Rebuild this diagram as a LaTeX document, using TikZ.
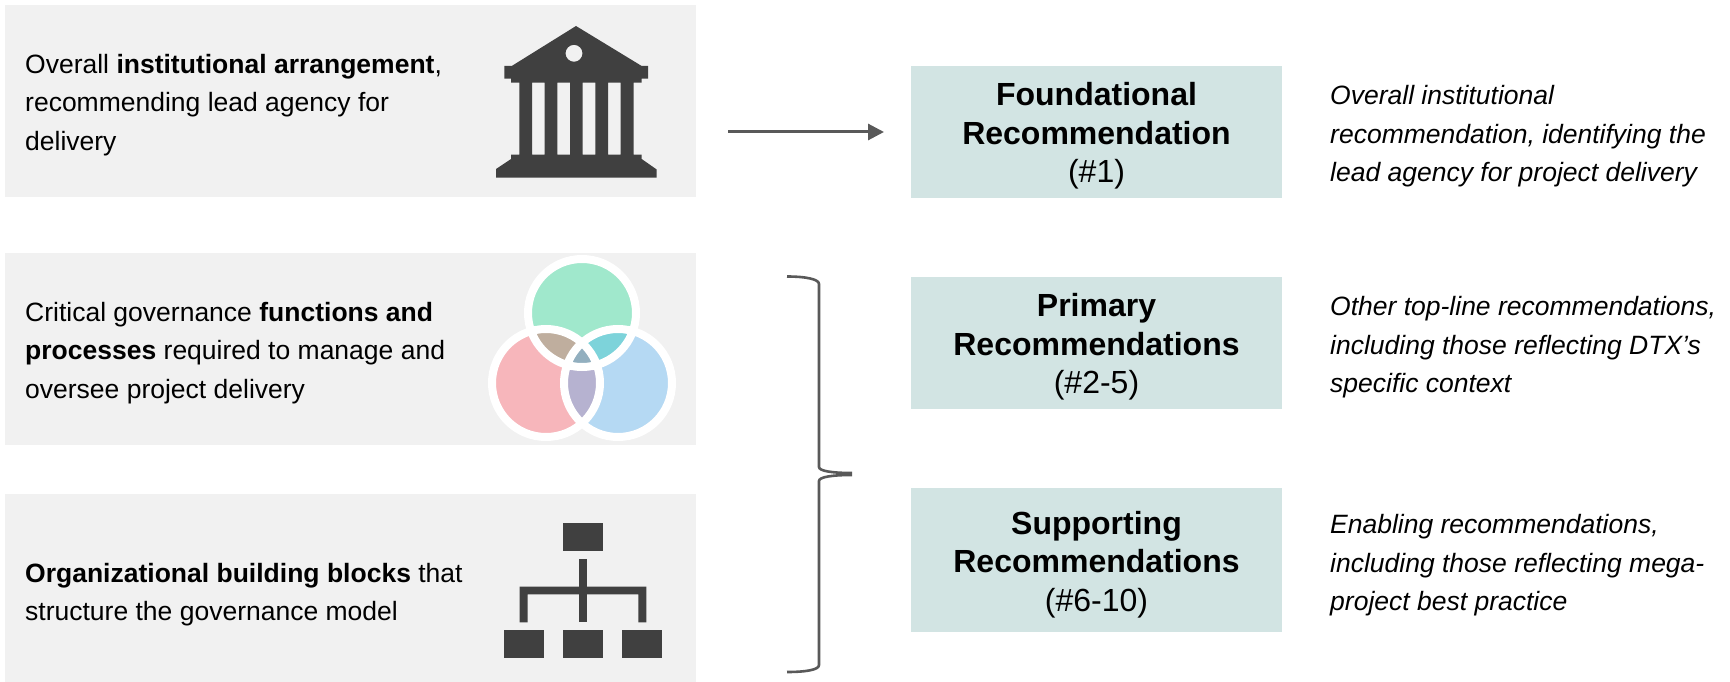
\documentclass[tikz,border=0pt]{standalone}
\usepackage{fontspec}
\setmainfont{Liberation Sans}
\definecolor{panelgray}{HTML}{F1F1F1}
\definecolor{boxteal}{HTML}{D2E4E3}
\definecolor{icondark}{HTML}{404040}
\definecolor{arrowgray}{HTML}{595959}
\definecolor{venntop}{HTML}{A0E8CC}
\definecolor{vennleft}{HTML}{F7B6BB}
\definecolor{vennright}{HTML}{B5D9F3}
\definecolor{venntl}{HTML}{BFAE9E}
\definecolor{venntr}{HTML}{7DD3DA}
\definecolor{vennlr}{HTML}{B6B2D0}
\definecolor{venncore}{HTML}{92AFBF}
\usetikzlibrary{arrows.meta}
\tikzset{
	panel/.style={fill=panelgray,draw=none,minimum width=691pt,inner sep=0pt},
	recbox/.style={fill=boxteal,draw=none,minimum width=371pt,inner sep=0pt},
	rectext/.style={align=center,inner sep=0pt,font=\fontsize{32}{38.5}\selectfont},
	paneltext/.style={anchor=west,align=left,inner sep=0pt,font=\fontsize{26.5}{38.5}\selectfont},
	notetext/.style={anchor=west,align=left,inner sep=0pt,font=\fontsize{26.5}{38.5}\selectfont\itshape},
	vennring/.style={draw=white,line width=8pt}
}
\begin{document}
\begin{tikzpicture}[x=1pt,y=-1pt]
		\useasboundingbox (0,0) rectangle (1730,682);
		% left panels
		\node[panel,minimum height=192pt] (panelA) at (350.5,101) {};
		\node[panel,minimum height=192pt] (panelB) at (350.5,349) {};
		\node[panel,minimum height=188pt] (panelC) at (350.5,588) {};
		\node[paneltext] (textA) at (25,105) {Overall \textbf{institutional arrangement},\\recommending lead agency for\\delivery};
		\node[paneltext] (textB) at (25,353) {Critical governance \textbf{functions and}\\\textbf{processes} required to manage and\\oversee project delivery};
		\node[paneltext] (textC) at (25,594.5) {\textbf{Organizational building blocks} that\\structure the governance model};
		% temple icon
		\fill[icondark,even odd rule] (576,26) -- (641.7,66) -- (648,66) -- (648,78.7) -- (641.7,78.7) -- (641.7,82.7)
		-- (633.7,82.7) -- (633.7,154.7) -- (641.7,154.7) -- (641.7,159) -- (656.7,169.5) -- (656.7,177.7) -- (496,177.7) -- (496,169)
		-- (511,159) -- (511,154.7) -- (519.3,154.7) -- (519.3,82.7) -- (511,82.7) -- (511,78.7) -- (504.3,78.7) -- (504.3,66) -- (511.7,66) -- cycle
		(574,53.3) circle[radius=8.5pt]
		(532,82.7) rectangle (544.7,154.7) (557.3,82.7) rectangle (570,154.7)
		(582.7,82.7) rectangle (595.3,154.7) (608,82.7) rectangle (620.7,154.7);
		% venn icon
		\fill[venntop] (582,313) circle[radius=54pt];
		\fill[vennleft] (546,383) circle[radius=54pt];
		\fill[vennright] (618,383) circle[radius=54pt];
		\begin{scope}
			\clip (582,313) circle[radius=54pt];
			\fill[venntl] (546,383) circle[radius=54pt];
			\fill[venntr] (618,383) circle[radius=54pt];
		\end{scope}
		\begin{scope}
			\clip (546,383) circle[radius=54pt];
			\fill[vennlr] (618,383) circle[radius=54pt];
			\clip (618,383) circle[radius=54pt];
			\fill[venncore] (582,313) circle[radius=54pt];
		\end{scope}
		\draw[vennring] (582,313) circle[radius=54pt];
		\draw[vennring] (546,383) circle[radius=54pt];
		\draw[vennring] (618,383) circle[radius=54pt];
		% org chart icon
		\fill[icondark] (563,523) rectangle (603,551);
		\fill[icondark] (504,630) rectangle (544,657.7);
		\fill[icondark] (563,630) rectangle (603,657.7);
		\fill[icondark] (622,630) rectangle (662,657.7);
		\fill[icondark] (579,559) rectangle (587,622.3);
		\fill[icondark] (519.7,622.3) -- (519.7,586.7) -- (646.3,586.7) -- (646.3,622.3) -- (638.3,622.3)
		-- (638.3,594.3) -- (527.7,594.3) -- (527.7,622.3) -- cycle;
		% recommendation boxes
		\node[recbox,minimum height=132pt] (found) at (1096.5,132) {};
		\node[recbox,minimum height=132pt] (prim) at (1096.5,343) {};
		\node[recbox,minimum height=144pt] (supp) at (1096.5,560) {};
		\node[rectext] (foundtext) at (1096.5,136) {\textbf{Foundational}\\\textbf{Recommendation}\\(\#1)};
		\node[rectext] (primtext) at (1096.5,347) {\textbf{Primary}\\\textbf{Recommendations}\\(\#2-5)};
		\node[rectext] (supptext) at (1096.5,564.5) {\textbf{Supporting}\\\textbf{Recommendations}\\(\#6-10)};
		\node[notetext] (noteA) at (1330,136.5) {Overall institutional\\recommendation, identifying the\\lead agency for project delivery};
		\node[notetext] (noteB) at (1330,347.5) {Other top-line recommendations,\\including those reflecting DTX’s\\specific context};
		\node[notetext] (noteC) at (1330,565.5) {Enabling recommendations,\\including those reflecting mega-\\project best practice};
		% arrow and bracket
		\coordinate (arrowstart) at (728,132);
		\coordinate (arrowend) at (884,132);
		\draw[arrowgray,line width=3pt,-{Triangle[length=16pt,width=16pt]}] (arrowstart) -- (arrowend);
		\draw[arrowgray,line width=2.6pt] (787,276.5) .. controls (805,276.5) and (819,279) .. (819,284) -- (819,467)
		.. controls (819,471) and (832,473) .. (852,473) (852,475) .. controls (832,475) and (819,477) .. (819,481)
		-- (819,665) .. controls (819,670) and (805,672) .. (787,672);
\end{tikzpicture}
\end{document}
